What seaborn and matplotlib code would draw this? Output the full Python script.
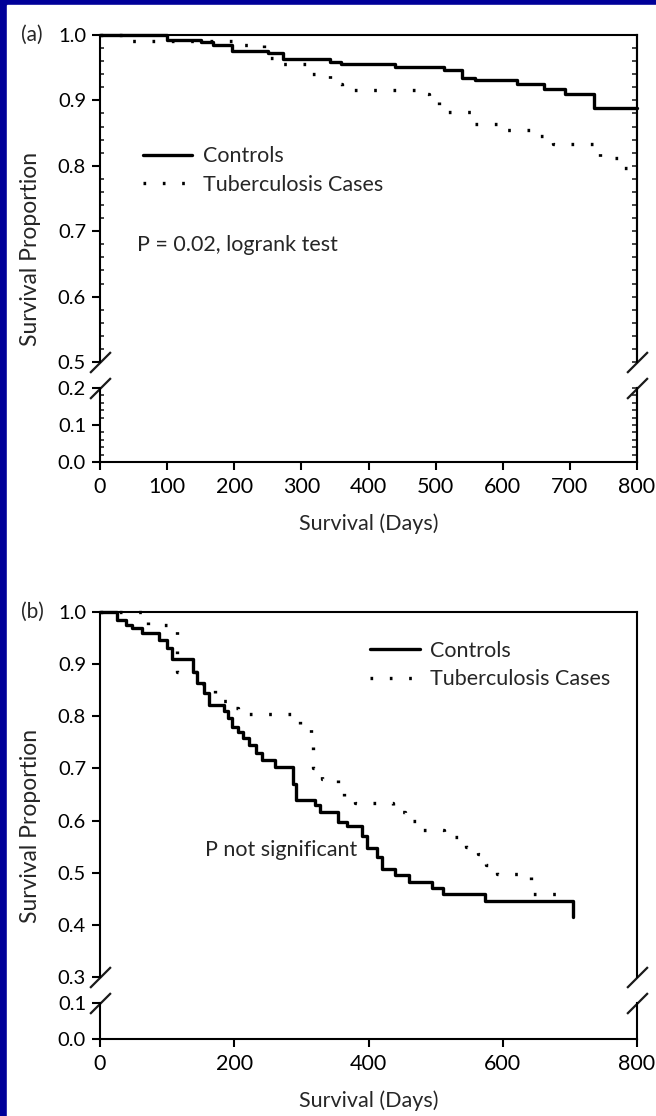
import matplotlib
matplotlib.use("Agg")
import matplotlib.pyplot as plt
from matplotlib.ticker import MultipleLocator
import pandas as pd
import seaborn as sns

# Kaplan-Meier step points (day, survival proportion after the step)
# (a) upper panel
a_ctrl_days = [0, 100, 150, 169, 197, 250, 272, 343, 359, 440, 513, 539, 558, 621, 661, 692, 736, 800]
a_ctrl_surv = [1.0, 0.993, 0.990, 0.985, 0.975, 0.972, 0.963, 0.958, 0.955, 0.951, 0.947, 0.935,
               0.931, 0.925, 0.918, 0.910, 0.889, 0.889]
a_tb_days = [0, 40, 200, 245, 265, 310, 343, 360, 470, 490, 505, 555, 600, 640, 675, 745, 778, 790]
a_tb_surv = [1.0, 0.991, 0.985, 0.965, 0.956, 0.940, 0.925, 0.916, 0.910, 0.900, 0.883, 0.864,
             0.855, 0.846, 0.833, 0.812, 0.797, 0.797]

# (b) lower panel
b_ctrl_days = [0, 25, 38, 47, 63, 88, 100, 107, 139, 145, 155, 162, 185, 190, 197, 205, 213, 222,
               232, 242, 260, 287, 292, 320, 328, 355, 368, 390, 398, 412, 420, 440, 460, 495,
               511, 574, 705]
b_ctrl_surv = [1.0, 0.985, 0.975, 0.969, 0.960, 0.946, 0.930, 0.910, 0.885, 0.864, 0.845, 0.822,
               0.810, 0.797, 0.780, 0.770, 0.759, 0.745, 0.730, 0.716, 0.703, 0.670, 0.640, 0.630,
               0.617, 0.598, 0.590, 0.570, 0.548, 0.530, 0.508, 0.496, 0.483, 0.471, 0.460, 0.445,
               0.416]
b_tb_days = [0, 72, 115, 150, 172, 195, 205, 290, 298, 315, 318, 330, 355, 363, 380, 437, 455,
             472, 512, 545, 563, 575, 592, 642, 680]
b_tb_surv = [1.0, 0.975, 0.885, 0.862, 0.830, 0.815, 0.804, 0.790, 0.775, 0.760, 0.700, 0.680,
             0.665, 0.648, 0.634, 0.617, 0.600, 0.582, 0.569, 0.550, 0.535, 0.515, 0.498, 0.460,
             0.460]

groups = ["Controls", "Tuberculosis Cases"]

sns.set_theme(style="ticks")
plt.rcParams["font.family"] = ["Lato", "DejaVu Sans"]

W, H = 656, 1116
fig = plt.figure(figsize=(W / 100, H / 100), dpi=100)
fig.patch.set_facecolor("#000099")
fig.add_artist(plt.Rectangle((7 / W, 0), 1, 1 - 5 / H, transform=fig.transFigure,
                             color="white", zorder=-5))

LEFT, RIGHT = 100, 637


def km_frame(days_c, surv_c, days_t, surv_t):
    return pd.concat([
        pd.DataFrame({"day": days_c, "surv": surv_c, "group": groups[0]}),
        pd.DataFrame({"day": days_t, "surv": surv_t, "group": groups[1]}),
    ])


def make_panel(df, tag, px, hi_lim, lo_lim, xstep, fine, leg_anchor, ptext, ptext_pos):
    y_top, y_hi, y_lo, y_bot = px
    ax_hi = fig.add_axes([LEFT / W, 1 - y_hi / H, (RIGHT - LEFT) / W, (y_hi - y_top) / H])
    ax_lo = fig.add_axes([LEFT / W, 1 - y_bot / H, (RIGHT - LEFT) / W, (y_bot - y_lo) / H],
                         sharex=ax_hi)

    for g, ls in zip(groups, ["-", (0, (0.8, 5))]):
        sub = df[df["group"] == g]
        sns.lineplot(data=sub, x="day", y="surv", ax=ax_hi, color="black", lw=2.4,
                     linestyle=ls, drawstyle="steps-post", estimator=None, sort=False,
                     label=g, clip_on=False)

    ax_hi.set_ylim(*hi_lim)
    ax_lo.set_ylim(*lo_lim)
    ax_hi.set_xlim(0, 800)

    for ax in (ax_hi, ax_lo):
        ax.set_facecolor("none")
        for s in ax.spines.values():
            s.set_linewidth(1.5)
            s.set_color("black")
        ax.yaxis.set_major_locator(MultipleLocator(0.1))
        ax.tick_params(axis="y", which="major", direction="out", length=6, width=1.5,
                       labelsize=14.5, pad=4, left=True, right=False, colors="black")
        ax.set_ylabel("")
        ax.set_xlabel("")
        if fine:
            ax.yaxis.set_minor_locator(MultipleLocator(0.02))
            ax.tick_params(axis="y", which="minor", direction="in", length=3, width=1.2,
                           left=True, right=False)
            sec = ax.secondary_yaxis("right")
            sec.yaxis.set_major_locator(MultipleLocator(0.02))
            sec.tick_params(direction="in", length=3.5, width=1.2, labelright=False)
            sec.spines["right"].set_linewidth(1.5)

    ax_hi.spines["bottom"].set_visible(False)
    ax_lo.spines["top"].set_visible(False)
    ax_hi.tick_params(axis="x", bottom=False, labelbottom=False)
    ax_lo.xaxis.set_major_locator(MultipleLocator(xstep))
    ax_lo.tick_params(axis="x", direction="out", length=5.5, width=1.5, labelsize=15.5, pad=5,
                      colors="black")
    ax_lo.set_xlabel("Survival (Days)", fontsize=15.5, labelpad=12)

    # break marks
    kw = dict(marker=[(-1, -1), (1, 1)], markersize=15, linestyle="none", color="k",
              mec="k", mew=1.6, clip_on=False)
    ax_hi.plot([0, 1], [0, 0], transform=ax_hi.transAxes, **kw)
    ax_lo.plot([0, 1], [1, 1], transform=ax_lo.transAxes, **kw)

    ax_hi.legend(loc="upper left", bbox_to_anchor=leg_anchor, frameon=False, fontsize=15.5,
                 handlelength=2.3, handletextpad=0.5, labelspacing=0.4, borderpad=0,
                 borderaxespad=0)
    ax_hi.text(*ptext_pos, ptext, transform=ax_hi.transAxes, fontsize=15.5, va="center",
               ha="left")

    fig.text(21 / W, 1 - y_top / H, tag, fontsize=15, va="center", ha="left")
    fig.text(31 / W, 1 - (y_top + y_bot) / 2 / H, "Survival Proportion", rotation=90,
             fontsize=16.5, va="center", ha="center")


make_panel(km_frame(a_ctrl_days, a_ctrl_surv, a_tb_days, a_tb_surv), "(a)",
           (35, 362, 388, 462), (0.5, 1.0), (0.0, 0.2), 100, True,
           (0.080, 0.660), "P = 0.02, logrank test", (0.069, 0.358))
make_panel(km_frame(b_ctrl_days, b_ctrl_surv, b_tb_days, b_tb_surv), "(b)",
           (612, 977, 1003, 1039), (0.3, 1.0), (0.0, 0.1), 200, False,
           (0.503, 0.921), "P not significant", (0.196, 0.348))

fig.savefig("out.png", dpi=100, facecolor=fig.get_facecolor())
